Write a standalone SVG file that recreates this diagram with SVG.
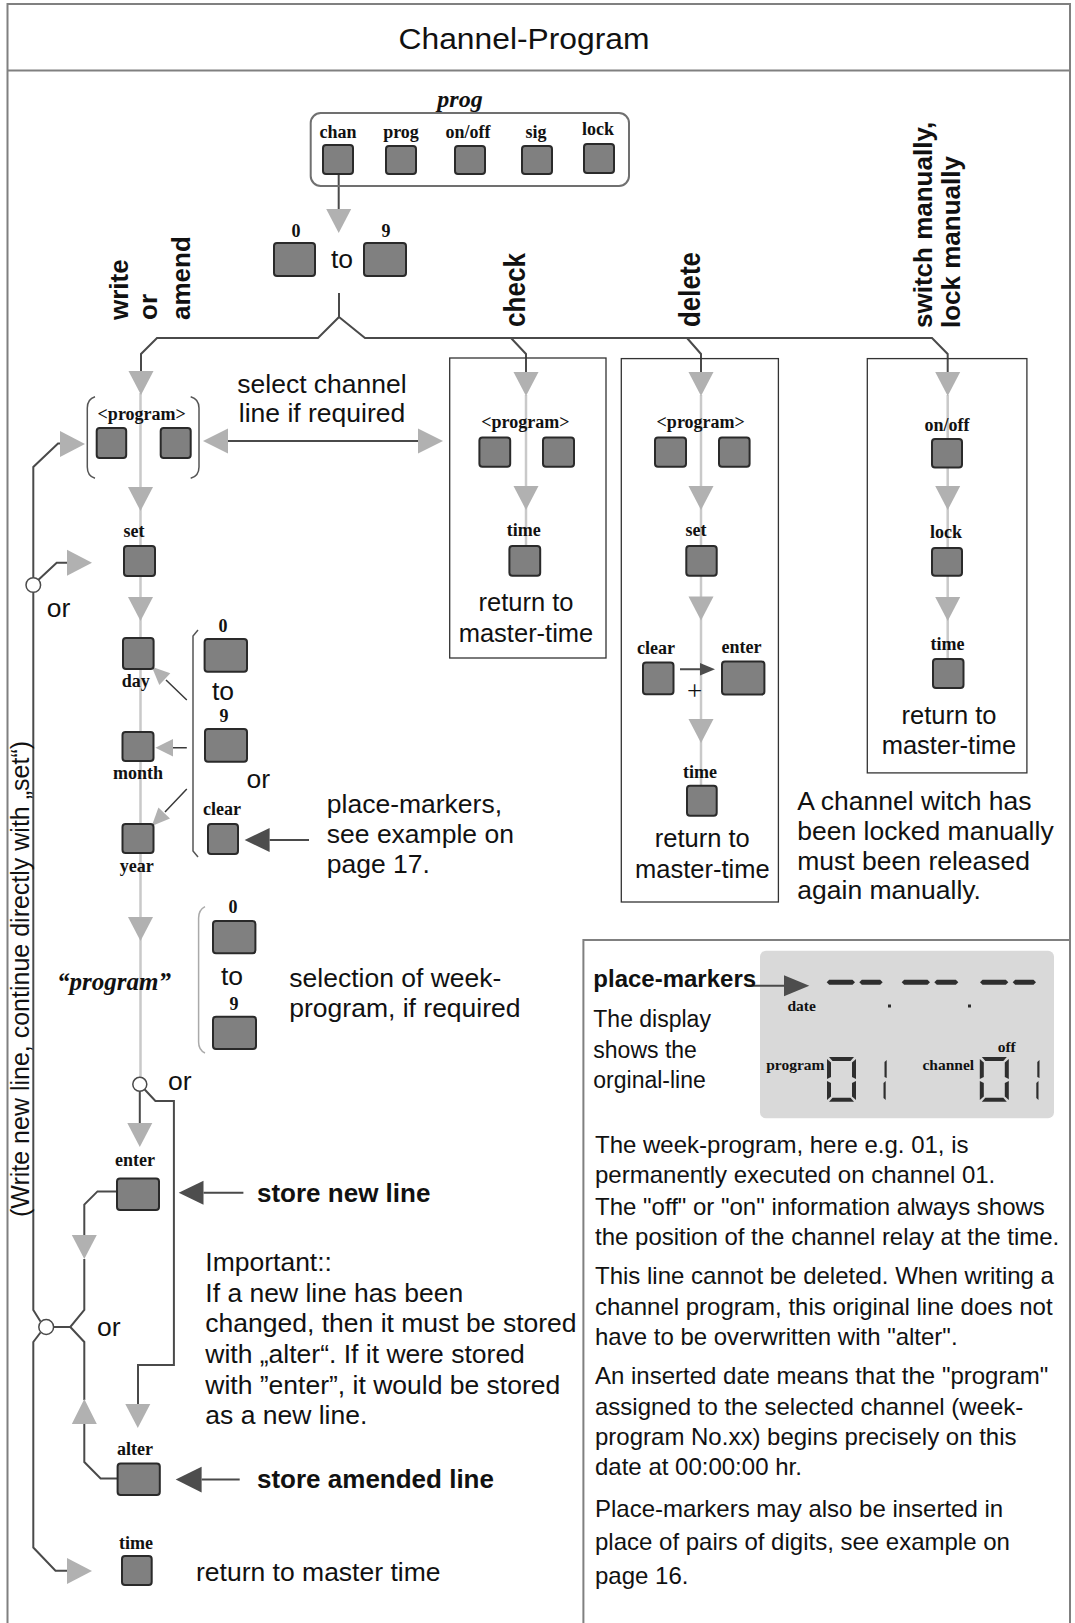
<svg xmlns="http://www.w3.org/2000/svg" xmlns:xlink="http://www.w3.org/1999/xlink" width="1075" height="1623" viewBox="0 0 1075 1623">
<style>
text{font-family:"Liberation Sans",Arial,sans-serif;fill:#111}
.t{font-size:26.5px}
.t2{font-size:25.5px;text-anchor:middle}
.r{font-size:24px}
.tb{font-size:26px;font-weight:bold}
.mid{text-anchor:middle}
.kl{font-family:"Liberation Serif","Times New Roman",serif;font-weight:bold;font-size:18px;text-anchor:middle}
.key{fill:#808080;stroke:#2a2a2a;stroke-width:2}
.frame{fill:none;stroke:#808080;stroke-width:2}
.dk{fill:none;stroke:#4a4a4a;stroke-width:2}
.thin{fill:none;stroke:#3a3a3a;stroke-width:1.5}
.lt{fill:none;stroke:#c9c9c9;stroke-width:2.5}
.br{fill:none;stroke:#555;stroke-width:1.5}
.brl{fill:none;stroke:#aaa;stroke-width:1.5}
.ga{fill:#b1b1b1}
.da{fill:#4d4d4d}
.box{fill:none;stroke:#333;stroke-width:1.3}
.circ{fill:#fff;stroke:#4a4a4a;stroke-width:1.5}
.seg{fill:#2e2e2e}
</style>
<defs>
<path id="ad" d="M-12.5,0 H12.5 L0,24 Z"/>
<path id="ar" d="M0,-13 L25,0 L0,13 Z"/>
</defs>

<g id="frame">
<path class="frame" d="M7.5,1623 V4 H1070 V1623"/>
<path class="frame" d="M7.5,70.5 H1070"/>
<path class="frame" d="M583.4,1623 V940 H1070"/>
<text x="524" y="49" class="mid" style="font-size:30px" textLength="251" lengthAdjust="spacingAndGlyphs">Channel-Program</text>
</g>

<g id="display-panel">
<rect x="760" y="950.7" width="294" height="167.6" rx="6" fill="#d9d9d9"/>
</g>

<g id="connectors">
<path class="lt" d="M140.5,393 V1077 M526,395 V546 M701,395 V786 M947.7,395 V659"/>
<path class="dk" d="M338.7,174 V209 M339,293 V317 L318,338 H157 L141,354 V371 M339,317 L365,338 H932 L947.7,354 V372 M511,338 L526,354 V372 M687,338 L701,354 V372"/>
<path class="dk" d="M61,443.5 H58 L33.3,467 V577.7 M38.5,579.8 L56.7,562.7 H68 M33.3,592.3 V1310 L40.5,1321.5 M40.5,1332.5 L33.3,1342 V1547.5 L55.5,1570.7 H68"/>
<path class="dk" d="M53.6,1327 H70.3 L84.3,1310 V1259 M84.3,1235 V1204.6 L97.5,1191.4 H117 M70.3,1327 L84.3,1342 V1400 M84.3,1424 V1462 L100.6,1478.5 H117.6"/>
<path class="dk" d="M139.8,1091.3 V1123 M144.7,1089.5 L155.4,1101 H173.9 V1365 H138 V1404"/>
<path class="dk" d="M228,441 H418 M269.6,840 H309 M203.5,1192.7 H243.4 M201.6,1479.6 H239.7 M746.7,985.7 H785 M680,669.3 H701"/>
<path class="thin" d="M186.8,700 L166,680 M186.8,747.7 H172 M186.8,789 L165,812"/>
<circle class="circ" cx="33.3" cy="585" r="7.3"/>
<circle class="circ" cx="46.2" cy="1327" r="7.4"/>
<circle class="circ" cx="139.8" cy="1084.3" r="7"/>
<g class="ga">
<use xlink:href="#ad" x="338.7" y="209"/>
<use xlink:href="#ad" x="141" y="371"/>
<use xlink:href="#ad" x="140.5" y="487"/>
<use xlink:href="#ad" x="140.5" y="597"/>
<use xlink:href="#ad" x="140.5" y="917"/>
<use xlink:href="#ad" x="139.8" y="1123"/>
<use xlink:href="#ad" x="137.8" y="1404"/>
<use xlink:href="#ad" x="84.3" y="1235"/>
<use xlink:href="#ad" x="526" y="372"/>
<use xlink:href="#ad" x="526" y="486"/>
<use xlink:href="#ad" x="701" y="372"/>
<use xlink:href="#ad" x="701" y="486"/>
<use xlink:href="#ad" x="701" y="596.5"/>
<use xlink:href="#ad" x="701" y="719"/>
<use xlink:href="#ad" x="947.7" y="372"/>
<use xlink:href="#ad" x="947.7" y="486"/>
<use xlink:href="#ad" x="947.7" y="597"/>
<use xlink:href="#ar" x="60" y="444"/>
<use xlink:href="#ar" x="67" y="562.7"/>
<use xlink:href="#ar" x="67" y="1571"/>
<polygon points="84.3,1399 71.8,1424 96.8,1424"/>
<polygon points="203,441 228,428.5 228,453.5"/>
<polygon points="443,441 418,428.5 418,453.5"/>
<polygon points="151.8,666.7 170.3,673.3 159.3,684.9"/>
<polygon points="155.4,747.7 173,739 173,756.4"/>
<polygon points="151.8,826 170,818.4 158.4,807.4"/>
</g>
<g class="da">
<polygon points="244.6,840 269.6,828 269.6,852"/>
<polygon points="178.7,1192.7 203.5,1180.7 203.5,1204.7"/>
<polygon points="175.7,1479.6 201.6,1466.8 201.6,1492.4"/>
<polygon points="809.3,985.7 784,975.2 784,996.2"/>
<polygon points="715,669.3 700,663 700,675.6"/>
</g>
</g>

<g id="prog-keys">
<rect x="310.7" y="113" width="318.3" height="73" rx="10" fill="none" stroke="#707070" stroke-width="2"/>
<text x="460" y="106.7" style="font-family:'Liberation Serif',serif;font-style:italic;font-weight:bold;font-size:24px" class="mid">prog</text>
<g id="key-chan"><text class="kl" x="338" y="138">chan</text><rect class="key" x="323" y="145" width="30" height="29" rx="3"/></g>
<g id="key-prog"><text class="kl" x="401" y="138">prog</text><rect class="key" x="386" y="146" width="30" height="28" rx="3"/></g>
<g id="key-onoff"><text class="kl" x="468" y="138">on/off</text><rect class="key" x="455" y="146" width="30" height="28" rx="3"/></g>
<g id="key-sig"><text class="kl" x="536" y="138">sig</text><rect class="key" x="522" y="146" width="30" height="28" rx="3"/></g>
<g id="key-lock"><text class="kl" x="598" y="135">lock</text><rect class="key" x="584" y="144" width="30" height="29" rx="3"/></g>
</g>

<g id="chan-0-9">
<text class="kl" x="296" y="237">0</text><rect class="key" x="274" y="243" width="41" height="33" rx="3"/>
<text class="t mid" x="342" y="268">to</text>
<text class="kl" x="386" y="237">9</text><rect class="key" x="364" y="243" width="42" height="33" rx="3"/>
</g>

<g id="labels-branch">
<text class="tb" transform="translate(128,320) rotate(-90)">write</text>
<text class="tb" transform="translate(156.7,320) rotate(-90)">or</text>
<text class="tb" transform="translate(190,320) rotate(-90)">amend</text>
<text style="font-size:30px;font-weight:bold" transform="translate(525,327) rotate(-90)" textLength="74" lengthAdjust="spacingAndGlyphs">check</text>
<text style="font-size:29px;font-weight:bold" transform="translate(700,327) rotate(-90)" textLength="75" lengthAdjust="spacingAndGlyphs">delete</text>
<text class="tb" transform="translate(932,328) rotate(-90)">switch manually,</text>
<text class="tb" transform="translate(959.5,328) rotate(-90)">lock manually</text>
<text style="font-size:25px" class="mid" transform="translate(29,979) rotate(-90)">(Write new line, continue directly with „set“)</text>
</g>

<g id="write-program">
<path class="br" d="M95,396.7 Q87.3,399 87.3,408 V467 Q87.3,476 95,478.3 M190.7,396.7 Q199,399 199,408 V467 Q199,476 190.7,478.3"/>
<text class="kl" x="141.7" y="420">&lt;program&gt;</text>
<rect class="key" x="96.7" y="428" width="29.5" height="30" rx="3"/>
<rect class="key" x="160.7" y="428" width="30" height="30" rx="3"/>
<text class="t mid" x="322" y="393">select channel</text>
<text class="t mid" x="322" y="421.7">line if required</text>
</g>
<g id="write-set"><text class="kl" x="134" y="537">set</text><rect class="key" x="124" y="546" width="31" height="30" rx="3"/></g>
<text class="t" x="46.7" y="616.7">or</text>
<g id="write-date">
<rect class="key" x="123" y="638" width="30.6" height="31" rx="3"/><text class="kl" x="135.7" y="687">day</text>
<rect class="key" x="122.5" y="732" width="31" height="29" rx="3"/><text class="kl" x="138" y="779">month</text>
<rect class="key" x="122.5" y="824" width="31" height="29" rx="3"/><text class="kl" x="136.8" y="872">year</text>
<path class="br" d="M198,630 L193,636 V851 L198,857"/>
<text class="kl" x="223" y="632">0</text><rect class="key" x="204.6" y="639" width="42.4" height="32.7" rx="3"/>
<text class="t mid" x="223" y="700">to</text>
<text class="kl" x="224" y="722">9</text><rect class="key" x="205" y="729" width="42" height="32.7" rx="3"/>
<text class="t" x="246.4" y="788">or</text>
<text class="kl" x="222" y="815">clear</text><rect class="key" x="208" y="824" width="30" height="30" rx="3"/>
<text class="t" x="326.8" y="813.3">place-markers,</text>
<text class="t" x="326.8" y="843">see example on</text>
<text class="t" x="326.8" y="873.3">page 17.</text>
</g>
<g id="write-week">
<text x="114" y="990" class="mid" style="font-family:'Liberation Serif',serif;font-style:italic;font-weight:bold;font-size:25px">“program”</text>
<path class="brl" d="M205,906.7 Q198.6,910 198.6,918 V1042 Q198.6,1050 205,1053"/>
<text class="kl" x="233" y="913">0</text><rect class="key" x="213" y="921" width="42.4" height="32.3" rx="3"/>
<text class="t mid" x="232" y="985">to</text>
<text class="kl" x="234" y="1010">9</text><rect class="key" x="213" y="1016.7" width="43" height="32.3" rx="3"/>
<text class="t" x="289.3" y="987.3">selection of week-</text>
<text class="t" x="289.3" y="1017.3">program, if required</text>
</g>
<text class="t" x="168" y="1090">or</text>
<text class="t" x="97" y="1336">or</text>
<g id="write-enter">
<text class="kl" x="135" y="1166.4">enter</text><rect class="key" x="117" y="1178.6" width="42" height="31.4" rx="3"/>
<text class="tb" x="257" y="1202">store new line</text>
</g>
<g id="important-note">
<text class="t" x="205.3" y="1270.7">Important::</text>
<text class="t" x="205.3" y="1301.5">If a new line has been</text>
<text class="t" x="205.3" y="1332.2">changed, then it must be stored</text>
<text class="t" x="205.3" y="1363">with „alter“. If it were stored</text>
<text class="t" x="205.3" y="1393.7">with ”enter”, it would be stored</text>
<text class="t" x="205.3" y="1424.4">as a new line.</text>
</g>
<g id="write-alter">
<text class="kl" x="135" y="1454.6">alter</text><rect class="key" x="117.6" y="1463.6" width="42.2" height="31.4" rx="3"/>
<text class="tb" x="257" y="1488">store amended line</text>
</g>
<g id="write-time">
<text class="kl" x="136" y="1548.6">time</text><rect class="key" x="122" y="1556" width="29.7" height="29" rx="3"/>
<text class="t" x="196" y="1581.4">return to master time</text>
</g>

<g id="check">
<rect class="box" x="449.7" y="358" width="156.3" height="300"/>
<text class="kl" x="525.4" y="427.5">&lt;program&gt;</text>
<rect class="key" x="479.4" y="437.5" width="30.8" height="29.3" rx="3"/>
<rect class="key" x="543" y="437.5" width="31" height="29.3" rx="3"/>
<text class="kl" x="523.8" y="536.4">time</text><rect class="key" x="509.4" y="546" width="30.8" height="29.7" rx="3"/>
<text class="t2" x="526" y="611">return to</text>
<text class="t2" x="526" y="642">master-time</text>
</g>

<g id="delete">
<rect class="box" x="621.3" y="358.6" width="157.1" height="543.4"/>
<text class="kl" x="700.7" y="427.5">&lt;program&gt;</text>
<rect class="key" x="655" y="437.5" width="31" height="29.3" rx="3"/>
<rect class="key" x="719" y="437.5" width="30.6" height="29.3" rx="3"/>
<text class="kl" x="696" y="536">set</text><rect class="key" x="686.3" y="546" width="30.4" height="29.7" rx="3"/>
<text class="kl" x="656" y="654">clear</text><rect class="key" x="643" y="662.5" width="30.5" height="31.8" rx="3"/>
<text class="kl" x="741.4" y="652.5">enter</text><rect class="key" x="722" y="661.4" width="42.4" height="33.2" rx="3"/>
<text x="694.5" y="700" class="mid" style="font-family:'Liberation Serif',serif;font-size:27px">+</text>
<text class="kl" x="700" y="777.5">time</text><rect class="key" x="687" y="785.7" width="29.7" height="30" rx="3"/>
<text class="t2" x="702.3" y="847">return to</text>
<text class="t2" x="702.3" y="877.5">master-time</text>
</g>

<g id="switch">
<rect class="box" x="867.3" y="358.6" width="159.6" height="414.3"/>
<text class="kl" x="947" y="431">on/off</text><rect class="key" x="932" y="439" width="30" height="28.5" rx="3"/>
<text class="kl" x="946" y="538">lock</text><rect class="key" x="932" y="548" width="30" height="27.7" rx="3"/>
<text class="kl" x="947.5" y="650">time</text><rect class="key" x="933" y="659" width="30.5" height="29" rx="3"/>
<text class="t2" x="949" y="724">return to</text>
<text class="t2" x="949" y="754.3">master-time</text>
</g>
<g id="switch-note">
<text class="t" x="797.3" y="809.6">A channel witch has</text>
<text class="t" x="797.3" y="840">been locked manually</text>
<text class="t" x="797.3" y="869.5">must been released</text>
<text class="t" x="797.3" y="899">again manually.</text>
</g>

<g id="display">
<text x="593.3" y="986.7" style="font-size:24px;font-weight:bold">place-markers</text>
<g class="seg">
<polygon points="826.7,982.3 829.2,979.8 852.5,979.8 855,982.3 852.5,984.8 829.2,984.8"/>
<polygon points="859.3,982.3 861.8,979.8 880.2,979.8 882.7,982.3 880.2,984.8 861.8,984.8"/>
<polygon points="901.7,982.3 904.2,979.8 927.5,979.8 930,982.3 927.5,984.8 904.2,984.8"/>
<polygon points="934.3,982.3 936.8,979.8 955.8,979.8 958.3,982.3 955.8,984.8 936.8,984.8"/>
<polygon points="980,982.3 982.5,979.8 1005.8,979.8 1008.3,982.3 1005.8,984.8 982.5,984.8"/>
<polygon points="1012.7,982.3 1015.2,979.8 1033.5,979.8 1036,982.3 1033.5,984.8 1015.2,984.8"/>
<rect x="888" y="1004.5" width="3" height="3"/>
<rect x="968" y="1004.5" width="3" height="3"/>
<g id="digits-program">
<polygon points="829,1057 854,1057 850.5,1061 832.5,1061"/>
<polygon points="829,1101.7 854,1101.7 850.5,1097.7 832.5,1097.7"/>
<polygon points="827,1059 831,1062.5 831,1077 827,1079"/>
<polygon points="827,1081 831,1083 831,1096.5 827,1100"/>
<polygon points="856,1059 852,1062.5 852,1077 856,1079"/>
<polygon points="856,1081 852,1083 852,1096.5 856,1100"/>
<polygon points="884.5,1062 886.7,1060 886.7,1078 884.5,1077"/>
<polygon points="883.5,1083 885.7,1081 885.7,1100 883.5,1098"/>
</g>
<use xlink:href="#digits-program" x="152.8" y="0"/>
</g>
<text x="801.7" y="1010.7" class="mid" style="font-family:'Liberation Serif',serif;font-weight:bold;font-size:15.5px">date</text>
<text x="795.3" y="1070" class="mid" style="font-family:'Liberation Serif',serif;font-weight:bold;font-size:15.5px">program</text>
<text x="948.3" y="1070" class="mid" style="font-family:'Liberation Serif',serif;font-weight:bold;font-size:15.5px">channel</text>
<text x="1006.7" y="1051.7" class="mid" style="font-family:'Liberation Serif',serif;font-weight:bold;font-size:15.5px">off</text>
<text style="font-size:23px" x="593.3" y="1027">The display</text>
<text style="font-size:23px" x="593.3" y="1057.5">shows the</text>
<text style="font-size:23px" x="593.3" y="1088">orginal-line</text>
</g>

<g id="info-text">
<text class="r" x="595" y="1153.3">The week-program, here e.g. 01, is</text>
<text class="r" x="595" y="1183.3">permanently executed on channel 01.</text>
<text class="r" x="595" y="1214.5">The "off" or "on" information always shows</text>
<text class="r" x="595" y="1245">the position of the channel relay at the time.</text>
<text class="r" x="595" y="1284.3">This line cannot be deleted. When writing a</text>
<text class="r" x="595" y="1315">channel program, this original line does not</text>
<text class="r" x="595" y="1345">have to be overwritten with "alter".</text>
<text class="r" x="595" y="1384.3">An inserted date means that the "program"</text>
<text class="r" x="595" y="1415">assigned to the selected channel (week-</text>
<text class="r" x="595" y="1445">program No.xx) begins precisely on this</text>
<text class="r" x="595" y="1475">date at 00:00:00 hr.</text>
<text class="r" x="595" y="1516.7">Place-markers may also be inserted in</text>
<text class="r" x="595" y="1550">place of pairs of digits, see example on</text>
<text class="r" x="595" y="1584">page 16.</text>
</g>
</svg>
